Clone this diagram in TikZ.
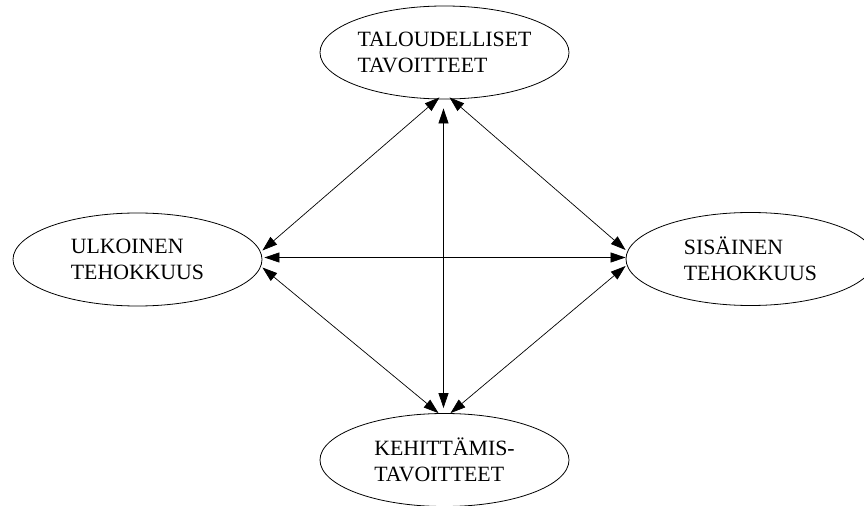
\documentclass[tikz,border=0pt]{standalone}
\usepackage{fontspec}
\setmainfont{Liberation Serif}
\usetikzlibrary{arrows.meta,shapes.geometric}

\begin{document}
\begin{tikzpicture}[x=1bp, y=-1bp,
        goal/.style={ellipse, draw, line width=0.8pt, minimum width=249bp, minimum height=93bp,
            inner sep=0pt, align=left, font=\fontsize{21.8bp}{26bp}\selectfont},
        link/.style={line width=0.7pt, {Triangle[length=15bp,width=10bp]}-{Triangle[length=15bp,width=10bp]}}]
        \useasboundingbox (0,0) rectangle (864,506);

        \node[goal] (talous) at (444.5, 52.5) {TALOUDELLISET\\TAVOITTEET};
        \node[goal] (ulkoinen) at (137.5, 259.5) {ULKOINEN\\TEHOKKUUS};
        \node[goal] (sisainen) at (750.5, 259) {SISÄINEN\\TEHOKKUUS};
        \node[goal] (kehitys) at (444.5, 460) {KEHITTÄMIS-\\TAVOITTEET};

        \draw[link] ([shift={(-5,-2)}]talous.south) -- ([shift={(0,-9)}]ulkoinen.east);
        \draw[link] ([shift={(5,-2)}]talous.south) -- ([shift={(0,-9)}]sisainen.west);
        \draw[link] ([shift={(-1,9)}]talous.south) -- ([shift={(-1,-5)}]kehitys.north);
        \draw[link] ([shift={(2,-2)}]ulkoinen.east) -- ([shift={(0,-1.5)}]sisainen.west);
        \draw[link] ([shift={(0,8)}]ulkoinen.east) -- ([shift={(-6,0)}]kehitys.north);
        \draw[link] ([shift={(0,7)}]sisainen.west) -- ([shift={(6,0)}]kehitys.north);
    \end{tikzpicture}
\end{document}
